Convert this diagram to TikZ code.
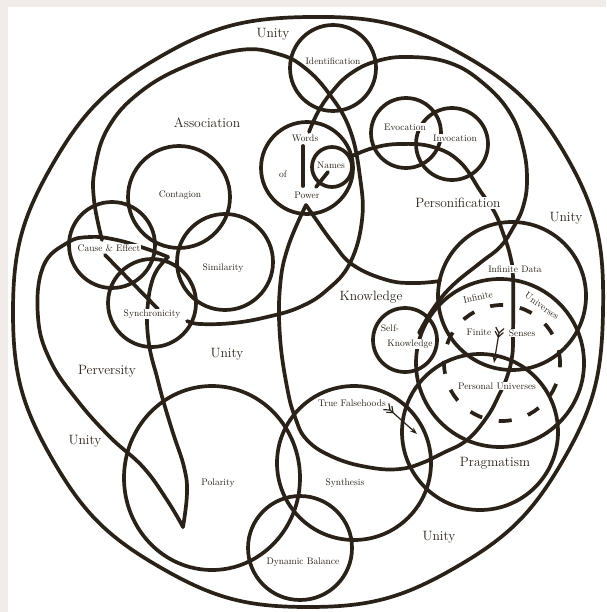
\documentclass[tikz,border=0pt]{standalone}
\usetikzlibrary{arrows.meta}
\definecolor{ink}{HTML}{2A2118}
\definecolor{paper}{HTML}{F1ECE9}
\begin{document}
\begin{tikzpicture}[x=1pt,y=-1pt,
  ln/.style={line width=3.7pt,draw=ink,line cap=round,line join=round},
  sm/.style={font=\fontsize{9.5}{10}\selectfont,text=ink,fill=white,inner sep=0.8pt},
  bg/.style={font=\fontsize{13.5}{14}\selectfont,text=ink,fill=white,inner sep=1pt},
  thinln/.style={line width=1.2pt,draw=ink,line cap=round}]
\useasboundingbox (0,0) rectangle (606,612);
\fill[paper] (0,0) rectangle (606,612);
\fill[white] (8,7) rectangle (606,612);
% outer boundary
\draw[ln] plot[smooth cycle,tension=0.75] coordinates {(603,312) (563.5,459.5) (455.5,567.5) (308,607) (160.5,567.5) (52.5,459.5) (13,312) (52.5,164.5) (160.5,56.5) (308,17) (458,52) (569,161)};
% circles
\draw[ln] (333,68) circle[radius=43pt];
\draw[ln] (307,168) circle[radius=46pt];
\draw[ln] (332,167) circle[radius=20pt];
\draw[ln] (406,133) circle[radius=35pt];
\draw[ln] (452,144) circle[radius=36pt];
\draw[ln] (112,245) circle[radius=43pt];
\draw[ln] (179,197) circle[radius=51pt];
\draw[ln] (225,262) circle[radius=48pt];
\draw[ln] (152,303) circle[radius=44pt];
\draw[ln] (512,296) circle[radius=74pt];
\draw[ln] (500,363) circle[radius=84pt];
\draw[ln] (480,432) circle[radius=78pt];
\draw[ln] (405,340) circle[radius=32pt];
\draw[ln] (354,463) circle[radius=77pt];
\draw[ln] (212,478) ellipse[x radius=88pt,y radius=92pt];
\draw[ln] (300,548) circle[radius=52pt];
\draw[ln,line cap=butt,dash pattern=on 13pt off 17pt] (502,363) circle[radius=58pt];
% Association loop
\draw[ln] plot[smooth,tension=0.7] coordinates {(102,240) (94,200) (95,168) (108,128) (139,93) (186,66) (240,50) (278,54) (305,68) (330,95) (350,130) (360,177) (362,220) (350,263) (327,290) (300,307) (267,317) (233,323) (200,324) (187,321)};
% right sweep from Words of Power
\draw[ln] (303,146) -- (303,186);
\draw[ln] plot[smooth,tension=0.7] coordinates {(309,132) (318,112) (331,93) (350,74) (377,61) (410,57) (450,63) (483,83) (510,113) (523,147) (527,180) (523,207) (513,228) (500,247) (480,263) (452,286) (433,309) (419,333)};
\draw[ln] (328,172) -- (316,187);
% Names - Personification - Knowledge loop
\draw[ln] plot[smooth,tension=0.7] coordinates {(350,157) (373,148) (400,144) (433,147) (460,162) (481,192) (495,213) (503,233) (510,255) (513,278) (513,335) (512,357) (507,377) (499,395) (487,417) (467,440) (443,453) (427,461) (400,469) (367,467) (333,457) (307,440) (295,417) (287,387) (280,337) (280,287) (288,247) (306,205)};
\draw[ln] plot[smooth,tension=0.7] coordinates {(306,205) (315,218) (333,243) (353,265) (387,280) (415,283) (440,281)};
% Perversity teardrop
\draw[ln] plot[smooth,tension=0.7] coordinates {(168,257) (157,270) (151,285) (148,303) (147,323) (150,350) (157,377) (163,400) (173,433) (184,467) (187,493) (183,527)};
\draw[ln] plot[smooth,tension=0.7] coordinates {(183,527) (167,500) (143,467) (110,437) (77,400) (50,360) (38,317) (43,267) (67,243) (90,237) (117,240) (147,249) (168,257)};
% Cause & Effect to Synchronicity
\draw[ln] (105,255) -- (158,309);
% arrows
\draw[thinln,-{Stealth[length=7pt,width=5pt]}] (390,410) -- (417,434);
\draw[thinln] (390,410) -- (383.7,409.7) (390,410) -- (388.9,403.7) (393,412.6) -- (386.7,412.3) (393,412.6) -- (391.9,406.3);
\draw[thinln,-{Stealth[length=7pt,width=5pt]}] (499,333) -- (494,363);
\draw[thinln] (499,333) -- (495.9,327.4) (499,333) -- (503.8,328.8) (498.3,337) -- (495.2,331.4) (498.3,337) -- (503.1,332.8);
% labels
\node[bg] (u1) at (273,34) {Unity};
\node[bg] (u2) at (566,218) {Unity};
\node[bg] (u3) at (227,354) {Unity};
\node[bg] (u4) at (85,441) {Unity};
\node[bg] (u5) at (439,537) {Unity};
\node[bg] (assoc) at (207,123) {Association};
\node[bg] (know) at (371,297) {Knowledge};
\node[bg] (pers) at (458,203) {Personification};
\node[bg] (perv) at (107,371) {Perversity};
\node[bg] (prag) at (495,463) {Pragmatism};
\node[sm] (ident) at (333,61) {Identification};
\node[sm] (words) at (305,138) {Words};
\node[sm] (of) at (283,174) {of};
\node[sm] (power) at (307,195) {Power};
\node[sm] (names) at (331,165) {Names};
\node[sm] (evoc) at (405,127) {Evocation};
\node[sm] (invoc) at (455,138) {Invocation};
\node[sm] (cont) at (180,195) {Contagion};
\node[sm] (ce) at (109,248) {Cause \& Effect};
\node[sm] (sim) at (223,268) {Similarity};
\node[sm] (sync) at (152,314) {Synchronicity};
\node[sm] (idata) at (515,269) {Infinite Data};
\node[sm,rotate=12] (inf) at (478,297) {Infinite};
\node[sm,rotate=-36] (univ) at (542,306) {Universes};
\node[sm] (fin) at (479,332) {Finite};
\node[sm] (sens) at (522,333) {Senses};
\node[sm] (self) at (390,328) {Self-};
\node[sm] (sknow) at (410,344) {Knowledge};
\node[sm] (puniv) at (497,386) {Personal Universes};
\node[sm] (truef) at (352,403) {True Falsehoods};
\node[sm] (pol) at (218,483) {Polarity};
\node[sm] (synth) at (345,483) {Synthesis};
\node[sm] (dyn) at (303,562) {Dynamic Balance};
\end{tikzpicture}
\end{document}
